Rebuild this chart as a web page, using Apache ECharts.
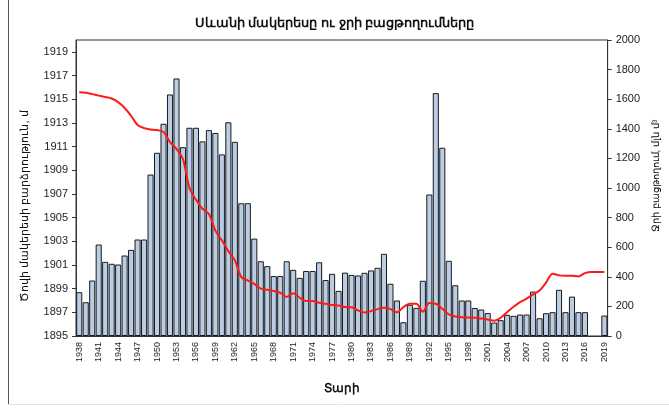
<!DOCTYPE html>
<html>
<head>
<meta charset="utf-8">
<script src="https://cdn.jsdelivr.net/npm/echarts@6/dist/echarts.min.js"></script>
<style>
  html, body { margin: 0; padding: 0; background: #fff; }
  #container { width: 669px; height: 416px; }
</style>
</head>
<body>
<div id="container"></div>
<script>
// years 1938-2019
var years = [];
for (var y = 1938; y <= 2019; y++) { years.push(String(y)); }

// ջրի բացթողում, մլն մ3 (bars, right axis)
var release = [
    296, 228, 375, 618, 501, 488, 483, 544, 582, 652,
    652, 1091, 1238, 1434, 1632, 1740, 1276, 1407, 1407, 1315,
    1391, 1372, 1227, 1444, 1312, 897, 897, 658, 505, 472,
    405, 405, 505, 447, 393, 439, 439, 498, 378, 420,
    305, 428, 413, 409, 427, 443, 461, 555, 353, 240,
    93, 211, 190, 373, 956, 1641, 1272, 508, 343, 240,
    240, 189, 179, 155, 91, 107, 143, 136, 145, 145,
    300, 120, 154, 161, 312, 161, 266, 161, 161, null,
    null, 138
];

// լճի մակարդակ, մ (line, left axis)
var level = [
    1915.58, 1915.55, 1915.43, 1915.30, 1915.19, 1915.06, 1914.75, 1914.26, 1913.60, 1912.82,
    1912.56, 1912.45, 1912.40, 1912.23, 1911.37, 1910.80, 1909.93, 1907.50, 1906.50, 1905.75,
    1905.30, 1903.90, 1903.08, 1902.17, 1901.39, 1899.97, 1899.70, 1899.40, 1899.00, 1898.90,
    1898.80, 1898.65, 1898.30, 1898.62, 1898.23, 1897.95, 1897.95, 1897.80, 1897.72, 1897.62,
    1897.58, 1897.44, 1897.43, 1897.16, 1896.98, 1897.10, 1897.27, 1897.38, 1897.27, 1897.00,
    1897.44, 1897.72, 1897.72, 1897.05, 1897.78, 1897.72, 1897.30, 1896.82, 1896.65, 1896.59,
    1896.56, 1896.55, 1896.48, 1896.40, 1896.29, 1896.54, 1897.01, 1897.47, 1897.86, 1898.15,
    1898.51, 1898.85, 1899.50, 1900.26, 1900.12, 1900.09, 1900.09, 1900.03, 1900.31, 1900.40,
    1900.40, 1900.40
];

// left axis tick labels
var levelTicks = [1895, 1897, 1899, 1901, 1903, 1905, 1907, 1909, 1911, 1913, 1915, 1917, 1919];

var dom = document.getElementById("container");
var myChart = echarts.init(dom);
var font = 'Liberation Sans, Arial, sans-serif';

// plain numbers, no thousands separator
function plain(v) { return String(v); }

var option = {
    animation: false,
    textStyle: { fontFamily: font },
    title: {
        text: 'Սևանի մակերեսը ու ջրի բացթողումները',
        left: 'center',
        top: 12,
        textStyle: { fontSize: 13, fontWeight: 'bold', color: '#111', fontFamily: font }
    },
    grid: {
        left: 76,
        right: 56,
        top: 40,
        bottom: 80,
        show: true,
        borderColor: '#333',
        borderWidth: 1
    },
    xAxis: {
        type: 'category',
        data: years,
        boundaryGap: true,
        name: 'Տարի',
        nameLocation: 'middle',
        nameGap: 47,
        nameTextStyle: { fontSize: 12, fontWeight: 'bold', color: '#111' },
        axisLine: { lineStyle: { color: '#333', width: 1 } },
        axisTick: { interval: 0, length: 4, lineStyle: { color: '#333' } },
        axisLabel: {
            interval: 2,
            rotate: 90,
            margin: 6,
            fontSize: 9,
            color: '#222'
        },
        splitLine: { show: false }
    },
    yAxis: [
        {
            type: 'value',
            min: 1895,
            max: 1920,
            name: 'Ծովի մակերեսի բարձրություն, մ',
            nameLocation: 'middle',
            nameGap: 46,
            nameTextStyle: { fontSize: 11, color: '#111', padding: [0, 36, 0, 0] },
            axisLine: { show: true, lineStyle: { color: '#333', width: 1 } },
            axisTick: { show: true, length: 4, customValues: levelTicks, lineStyle: { color: '#333' } },
            axisLabel: { customValues: levelTicks, formatter: plain, margin: 8, fontSize: 11, color: '#222' },
            splitLine: { show: false }
        },
        {
            type: 'value',
            min: 0,
            max: 2000,
            interval: 200,
            name: 'Ջրի բացթողում, մլն մ³',
            nameLocation: 'middle',
            nameGap: 43,
            nameTextStyle: { fontSize: 10, color: '#111', padding: [0, 0, 0, 24] },
            axisLine: { show: true, lineStyle: { color: '#333', width: 1 } },
            axisTick: { show: true, length: 4, lineStyle: { color: '#333' } },
            axisLabel: { formatter: plain, margin: 8, fontSize: 11, color: '#222' },
            splitLine: { show: false }
        }
    ],
    graphic: [
        {
            type: 'line',
            shape: { x1: 8.5, y1: 0, x2: 8.5, y2: 405 },
            style: { stroke: '#555', lineWidth: 1 }
        },
        {
            type: 'line',
            shape: { x1: 8, y1: 404.5, x2: 669, y2: 404.5 },
            style: { stroke: '#e4e4e4', lineWidth: 1 }
        }
    ],
    series: [
        {
            name: 'release',
            type: 'bar',
            yAxisIndex: 1,
            barCategoryGap: '6%',
            itemStyle: {
                color: '#b9cde5',
                borderColor: '#1a1a1a',
                borderWidth: 1
            },
            data: release
        },
        {
            name: 'level',
            type: 'line',
            yAxisIndex: 0,
            smooth: 0.3,
            symbol: 'none',
            lineStyle: { color: '#ff1a1a', width: 2 },
            data: level,
            z: 5
        }
    ]
};

if (option && typeof option === "object") {
    myChart.setOption(option, true);
}
</script>
</body>
</html>
